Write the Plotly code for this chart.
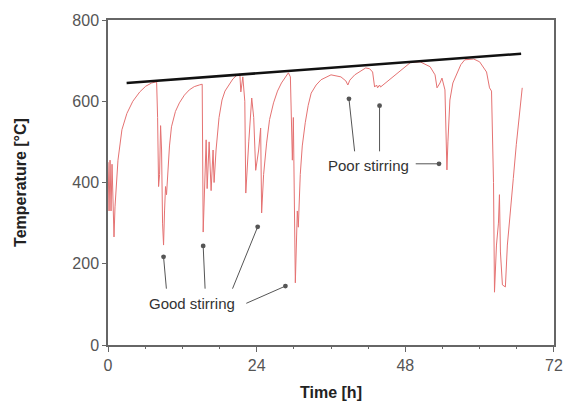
import plotly.graph_objects as go

# furnace temperature trace
time_h = [
    0.0, 0.16, 0.32, 0.48, 0.64, 0.8, 0.96, 1.12, 1.6, 2.24, 3.04, 4.0, 5.12, 6.08, 7.04, 7.84,
    8.0, 8.16, 8.32, 8.48, 8.64, 8.8, 8.96, 9.12, 9.28, 9.44, 9.6, 9.92, 10.24, 10.88, 11.52,
    12.32, 13.12, 13.92, 14.72, 15.2, 15.36, 15.68, 15.84, 16.0, 16.32, 16.64, 16.96, 17.12,
    17.44, 17.92, 18.4, 18.88, 19.52, 20.16, 20.8, 21.28, 21.44, 21.6, 21.76, 22.08, 22.24,
    22.72, 23.2, 23.52, 23.84, 24.32, 24.64, 24.8, 25.12, 25.6, 26.08, 26.72, 27.36, 28.0,
    28.64, 29.12, 29.44, 29.6, 29.76, 29.92, 30.24, 30.56, 30.72, 31.04, 31.36, 31.84, 32.32,
    32.8, 33.6, 34.4, 36.0, 37.6, 38.4, 38.72, 39.04, 39.84, 40.8, 41.6, 42.24, 42.72, 43.04,
    43.36, 43.52, 43.84, 44.0, 44.8, 45.6, 47.2, 48.8, 50.4, 52.0, 52.8, 53.12, 53.6, 53.92,
    54.4, 54.72, 54.88, 55.2, 55.68, 56.32, 56.96, 57.6, 59.04, 60.0, 61.12, 61.6, 61.92,
    62.24, 62.4, 62.72, 63.04, 63.2, 63.36, 63.68, 64.16, 64.48, 64.8, 65.12, 65.44, 65.92,
    66.4, 66.88,
]
temp_c = [
    450, 330, 455, 330, 445, 320, 266, 340, 455, 530, 570, 600, 623, 637, 645, 648,
    560, 390, 420, 540, 480, 300, 246, 330, 390, 370, 420, 490, 537, 575, 596,
    615, 628, 636, 640, 642, 278, 400, 505, 385, 500, 380, 480, 400,
    480, 560, 603, 625, 640, 655, 664, 667, 623, 640, 660, 600, 374,
    500, 608, 560, 430, 480, 534, 325, 420, 497, 555, 596, 625, 645,
    660, 670, 660, 580, 455, 560, 153, 330, 290, 420, 490, 547, 590,
    620, 640, 653, 665, 660, 650, 640, 652, 665, 675, 682, 680, 672, 635,
    640, 633, 640, 635, 645, 657, 677, 695, 697, 685, 665, 633, 645, 657,
    628, 431, 500, 603, 645, 670, 690, 702, 704, 697, 672, 633, 625,
    400, 130, 246, 300, 370, 229, 148, 143, 246, 296, 352, 410, 493,
    570, 633,
]

# black trend line of peak temperatures
trend_h = [3.0, 66.7]
trend_c = [645, 717]

x_ticks = [0, 24, 48, 72]
y_ticks = [0, 200, 400, 600, 800]

# annotation arrows: (dot_h, dot_c, tail_h, tail_c)
good_arrows = [
    (8.96, 217, 9.44, 135),
    (15.36, 244, 15.68, 135),
    (24.16, 291, 20.0, 135),
    (28.64, 145, 22.08, 101),
]
poor_arrows = [
    (38.9, 606, 39.84, 473),
    (43.84, 589, 43.84, 473),
    (53.44, 446, 49.44, 446),
]

FONT = "Liberation Sans, Arial"

fig = go.Figure()
fig.add_trace(go.Scatter(
    x=time_h, y=temp_c, mode="lines",
    line=dict(color="#e57272", width=1),
    showlegend=False, hoverinfo="skip"
))
fig.add_trace(go.Scatter(
    x=trend_h, y=trend_c, mode="lines",
    line=dict(color="#111111", width=2.5),
    showlegend=False, hoverinfo="skip"
))

annotations = []
for x, y, ax, ay in good_arrows + poor_arrows:
    annotations.append(dict(
        x=x, y=y, ax=ax, ay=ay, xref="x", yref="y", axref="x", ayref="y",
        text="", showarrow=True, arrowhead=6, arrowsize=1.2,
        arrowwidth=1, arrowcolor="#555555", standoff=0, startstandoff=0
    ))
annotations.append(dict(
    x=13.6, y=101, xref="x", yref="y", text="Good stirring", showarrow=False,
    font=dict(family=FONT, size=15, color="#333333")
))
annotations.append(dict(
    x=42.1, y=441, xref="x", yref="y", text="Poor stirring", showarrow=False,
    font=dict(family=FONT, size=15, color="#333333")
))

fig.update_layout(
    width=563, height=401,
    paper_bgcolor="white", plot_bgcolor="white",
    margin=dict(l=108, r=9, t=20, b=56),
    font=dict(family=FONT, size=16, color="#555555"),
    annotations=annotations,
)
fig.update_xaxes(
    range=[-0.01, 72.01], tickvals=x_ticks, automargin=False,
    ticklabeloverflow="allow",
    title=dict(text="<b>Time [h]</b>", font=dict(size=16, color="#222222"), standoff=14),
    showgrid=False, zeroline=False,
    showline=True, linecolor="#666666", linewidth=1.5, mirror=True,
    ticks="outside", ticklen=5, tickcolor="#666666",
    minor=dict(dtick=6, ticks="outside", ticklen=2, tickcolor="#666666"),
)
fig.update_yaxes(
    range=[0, 800], tickvals=y_ticks, automargin=False,
    title=dict(text="<b>Temperature [°C]</b>", font=dict(size=16, color="#222222"), standoff=42),
    showgrid=False, zeroline=False,
    showline=True, linecolor="#666666", linewidth=1.5, mirror=True,
    ticks="outside", ticklen=4, tickcolor="#666666",
)

# drop the default 8px page margin so the figure fills the window exactly
fig.write_html(
    "out.html",
    config={"displayModeBar": False},
    post_script="document.body.style.margin='0';document.body.style.overflow='hidden';",
)
